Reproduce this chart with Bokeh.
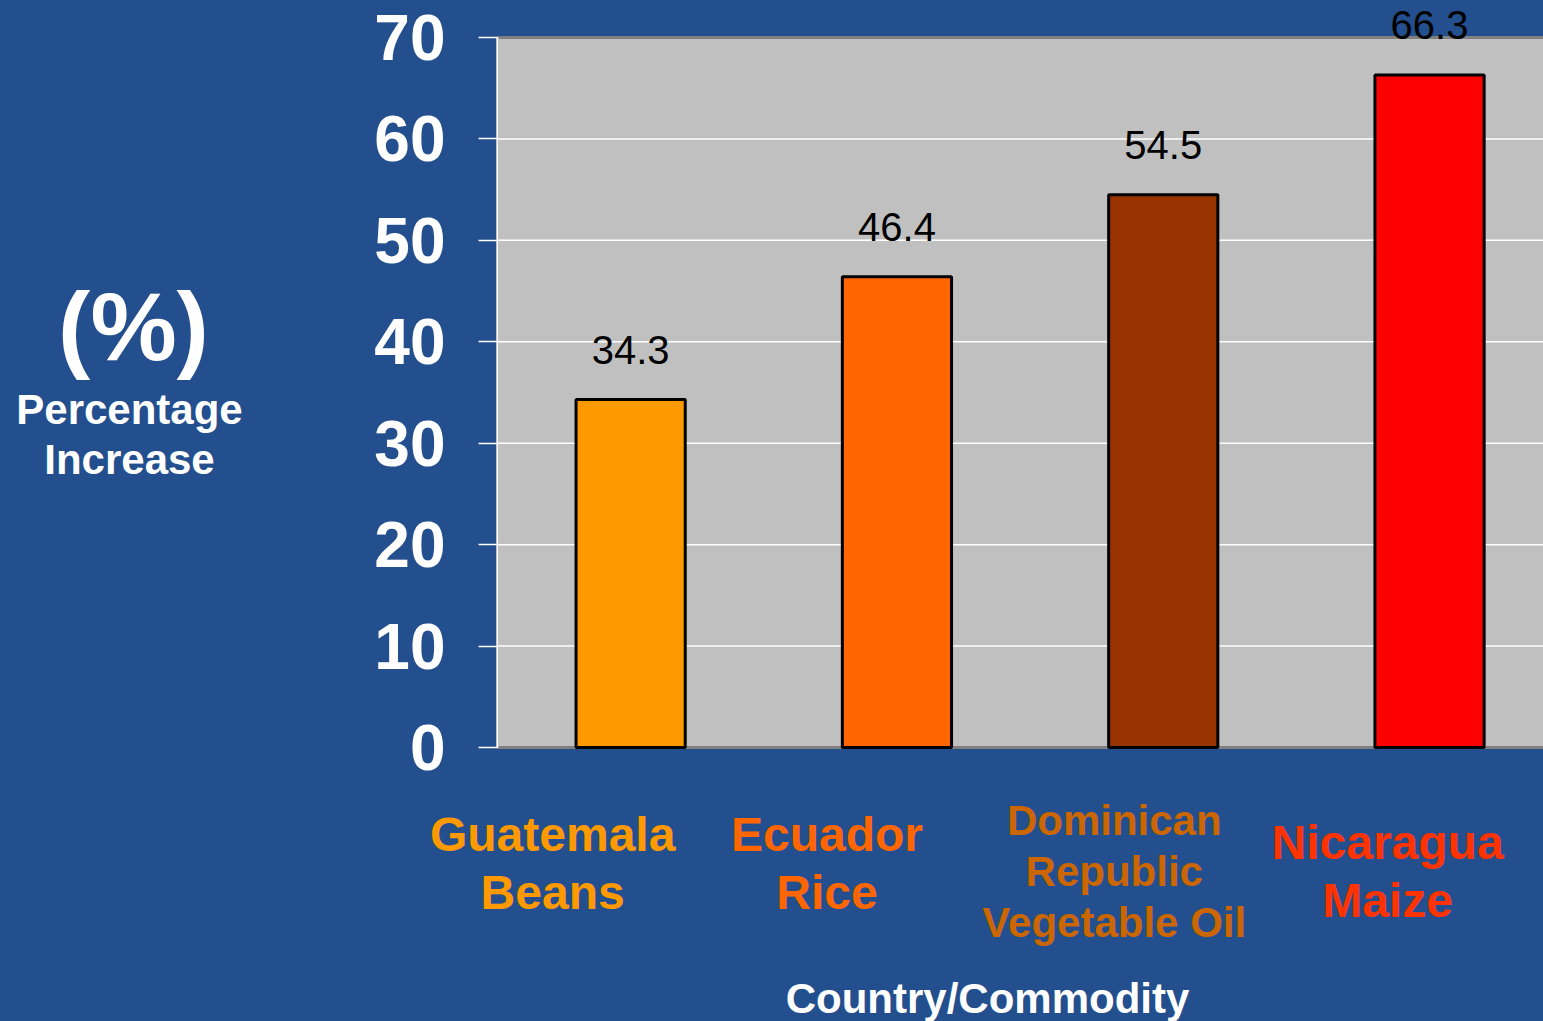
from bokeh.plotting import figure
from bokeh.models import ColumnDataSource, Range1d, FixedTicker
from bokeh.core.properties import value
from bokeh.embed import file_html
from bokeh.resources import INLINE

# ---- data ----
categories = ["Guatemala\nBeans", "Ecuador\nRice", "Dominican\nRepublic\nVegetable Oil", "Nicaragua\nMaize"]
values = [34.3, 46.4, 54.5, 66.3]
value_labels = ["34.3", "46.4", "54.5", "66.3"]
y_ticks = [0, 10, 20, 30, 40, 50, 60, 70]
y_title_big = "(%)"
y_title_small = "Percentage\nIncrease"
x_title = "Country/Commodity"

# ---- styles / layout ----
bar_colors = ["#FF9900", "#FF6600", "#993300", "#FF0000"]
cat_colors = ["#FF9900", "#FF6600", "#CC6600", "#FF3300"]
cat_sizes = ["48px", "48px", "42px", "48px"]
cat_x_off = [-78, -70, -49, -42]
cat_y_off = [116, 116, 124, 124]
BLUE = "#234F8E"
FONT = "Liberation Sans"

W, H = 1543, 1021
# plot-area pixel geometry (from top-left of the canvas)
AX_LEFT, AX_TOP, AX_BOTTOM = 497, 37, 747
UNIT_PX = 266.3
Y_PX = (AX_BOTTOM - AX_TOP) / 70.0

def xdata(px):
    return (px - AX_LEFT) / UNIT_PX

def ydata(py):
    return (AX_BOTTOM - py) / Y_PX

x_end = xdata(W)

p = figure(width=W, height=H, output_backend="svg", toolbar_location=None,
           x_range=Range1d(xdata(0), x_end), y_range=Range1d(ydata(H), ydata(0)),
           x_axis_location=None, min_border=0,
           min_border_left=0, min_border_right=0, min_border_top=0, min_border_bottom=0)
p.background_fill_color = BLUE
p.border_fill_color = BLUE
p.outline_line_color = None
p.xgrid.visible = False
p.ygrid.visible = False

# plot area
p.quad(left=0, right=x_end + 0.2, bottom=0, top=70, fill_color="#C0C0C0",
       line_color="#808080", line_width=3)

# gridlines (inner ticks only; ends are the plot-area border)
inner = y_ticks[1:-1]
p.segment(x0=[0] * len(inner), x1=[x_end + 0.2] * len(inner), y0=inner, y1=inner,
          line_color="white", line_width=1.5)

xs = [i + 0.5 for i in range(len(categories))]
src = ColumnDataSource(dict(x=xs, top=values, color=bar_colors, lab=value_labels))
p.vbar(x="x", top="top", width=0.41, bottom=0, source=src,
       fill_color="color", line_color="black", line_width=3)

# value labels
p.text(x="x", y="top", text="lab", source=src, y_offset=-36,
       text_align="center", text_baseline="bottom",
       text_font=value(FONT), text_font_size="40px", text_color="black")

# category labels
csrc = ColumnDataSource(dict(x=xs, y=[0] * len(xs), text=categories, color=cat_colors,
                             size=cat_sizes, xo=cat_x_off, yo=cat_y_off))
p.text(x="x", y="y", text="text", source=csrc, x_offset="xo", y_offset="yo",
       text_align="center", text_baseline="middle",
       text_font=value(FONT), text_font_style="bold", text_font_size="size",
       text_color="color", text_line_height=1.08)

# y axis
ya = p.yaxis[0]
ya.fixed_location = 0
ya.bounds = (0, 70)
ya.ticker = FixedTicker(ticks=y_ticks)
ya.axis_line_color = "white"
ya.axis_line_width = 2
ya.major_tick_line_color = "white"
ya.major_tick_line_width = 1.5
ya.major_tick_out = 19
ya.major_tick_in = 0
ya.minor_tick_line_color = None
ya.major_label_text_color = "white"
ya.major_label_text_font = FONT
ya.major_label_text_font_style = "bold"
ya.major_label_text_font_size = "64px"
ya.major_label_standoff = 33

# axis titles
p.text(x=[xdata(133)], y=[ydata(326)], text=[y_title_big], text_align="center",
       text_baseline="middle", text_font=value(FONT), text_font_style="bold",
       text_font_size="97px", text_color="white")
p.text(x=[xdata(129)], y=[ydata(434)], text=[y_title_small], text_align="center",
       text_baseline="middle", text_font=value(FONT), text_font_style="bold",
       text_font_size="42px", text_color="white", text_line_height=1.08)
p.text(x=[xdata(987)], y=[ydata(998)], text=[x_title], text_align="center",
       text_baseline="middle", text_font=value(FONT), text_font_style="bold",
       text_font_size="42px", text_color="white")

html = file_html(p, INLINE)
html = html.replace("</head>", "<style>html,body{background:%s;}</style></head>" % BLUE, 1)
open("out.html", "w").write(html)
